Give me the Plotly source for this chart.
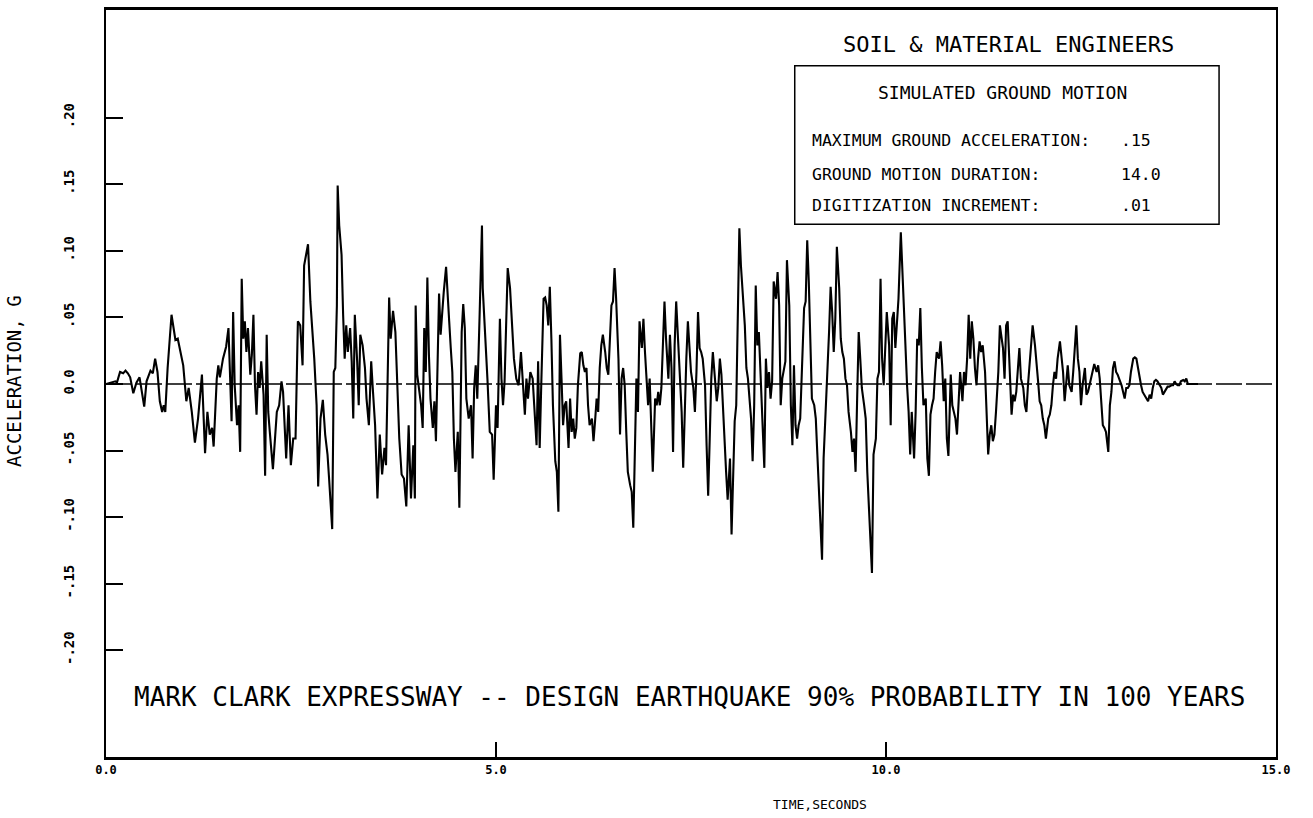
import plotly.graph_objects as go

# Simulated ground motion record: time (s) and acceleration (g)
time_s = [
    0.00, 0.05, 0.12, 0.14, 0.18, 0.22, 0.25, 0.28, 0.31, 0.35, 0.39, 0.43, 0.46, 0.49, 0.52, 0.57,
    0.60, 0.63, 0.66, 0.69, 0.72, 0.74, 0.76, 0.79, 0.84, 0.89, 0.92, 0.96, 0.99, 1.03, 1.06, 1.10,
    1.14, 1.18, 1.23, 1.27, 1.30, 1.33, 1.36, 1.38, 1.42, 1.44, 1.46, 1.50, 1.54, 1.57, 1.59, 1.61,
    1.63, 1.65, 1.68, 1.70, 1.72, 1.74, 1.76, 1.78, 1.80, 1.82, 1.85, 1.87, 1.89, 1.91, 1.93, 1.95,
    1.97, 1.99, 2.02, 2.04, 2.06, 2.08, 2.10, 2.14, 2.19, 2.22, 2.25, 2.27, 2.31, 2.34, 2.37, 2.40,
    2.43, 2.46, 2.49, 2.52, 2.54, 2.56, 2.59, 2.62, 2.65, 2.67, 2.70, 2.72, 2.75, 2.78,
    2.81, 2.84, 2.86, 2.90, 2.92, 2.94, 2.96, 2.97, 2.99, 3.02, 3.04, 3.06, 3.08, 3.10, 3.13, 3.15,
    3.17, 3.19, 3.22, 3.24, 3.26, 3.29, 3.32, 3.34, 3.37, 3.40, 3.42, 3.45, 3.48, 3.51, 3.54, 3.57,
    3.59, 3.61, 3.63, 3.65, 3.68, 3.71, 3.73, 3.76, 3.79, 3.82, 3.85, 3.88, 3.91, 3.94, 3.96, 3.97,
    3.99, 4.01, 4.04, 4.06, 4.08, 4.10, 4.12, 4.14, 4.16, 4.19, 4.21, 4.23, 4.25, 4.27, 4.29, 4.31,
    4.33, 4.36, 4.38, 4.40, 4.42, 4.44, 4.46, 4.48, 4.51, 4.53, 4.56, 4.58, 4.60, 4.62, 4.65, 4.68,
    4.70, 4.72, 4.74, 4.76, 4.79, 4.82, 4.83, 4.86, 4.89, 4.92, 4.95, 4.97, 5.00, 5.02, 5.05, 5.07,
    5.09, 5.11, 5.13, 5.15, 5.18, 5.20, 5.23, 5.26, 5.29, 5.32, 5.35, 5.37, 5.39, 5.41, 5.44, 5.47,
    5.49, 5.52, 5.54,
    5.56, 5.58, 5.61, 5.63, 5.65, 5.67, 5.69, 5.71, 5.73, 5.76, 5.78, 5.80, 5.82, 5.84, 5.86, 5.88,
    5.90, 5.93, 5.95, 5.97, 5.99, 6.01, 6.03, 6.05, 6.08, 6.10, 6.12, 6.14, 6.16, 6.18, 6.20, 6.23,
    6.25, 6.27, 6.29, 6.31, 6.33, 6.35, 6.37, 6.40, 6.42, 6.44, 6.46, 6.48, 6.50, 6.52, 6.54, 6.57,
    6.59, 6.61, 6.63, 6.65, 6.67, 6.69, 6.72, 6.74, 6.76, 6.78, 6.80, 6.82, 6.84, 6.87, 6.89, 6.91,
    6.93, 6.95, 6.97, 6.99, 7.01, 7.04, 7.06, 7.08, 7.10, 7.12, 7.14, 7.16, 7.18, 7.21, 7.23, 7.25,
    7.27, 7.29, 7.31, 7.33, 7.36, 7.38, 7.40, 7.42, 7.44, 7.46, 7.48, 7.50, 7.53, 7.55, 7.57, 7.59,
    7.61, 7.63, 7.65, 7.68, 7.70, 7.72, 7.74, 7.76, 7.78, 7.80, 7.83, 7.85, 7.87, 7.89, 7.91, 7.95,
    7.97, 8.00, 8.02, 8.04, 8.06, 8.08, 8.10, 8.12, 8.14, 8.17, 8.19, 8.21, 8.23, 8.25, 8.27, 8.29,
    8.31, 8.33, 8.35, 8.37, 8.39, 8.41, 8.44, 8.46, 8.48, 8.50, 8.52, 8.54, 8.56, 8.59, 8.61, 8.63,
    8.65, 8.67, 8.69, 8.71, 8.73, 8.76, 8.78, 8.80, 8.82, 8.84, 8.86, 8.88, 8.90, 8.93, 8.95, 8.97,
    8.99, 9.01, 9.03, 9.05, 9.08, 9.10, 9.12, 9.14, 9.16, 9.18, 9.20, 9.23, 9.25, 9.27, 9.29, 9.31,
    9.33, 9.35, 9.37, 9.40, 9.42, 9.44, 9.46, 9.48, 9.50, 9.52, 9.55, 9.57, 9.59, 9.61, 9.63, 9.65,
    9.67, 9.69, 9.72, 9.74, 9.76, 9.78, 9.80, 9.82, 9.84, 9.87, 9.89, 9.91, 9.93, 9.95, 9.97, 9.99,
    10.01, 10.04, 10.06, 10.08, 10.10, 10.12, 10.14, 10.16, 10.19, 10.21, 10.23, 10.25, 10.27, 10.29,
    10.31, 10.33, 10.36, 10.38, 10.40, 10.42, 10.44, 10.46, 10.48, 10.51, 10.53, 10.55, 10.57, 10.59,
    10.61, 10.63, 10.65, 10.68, 10.70, 10.72, 10.74, 10.76, 10.78, 10.80, 10.83, 10.85, 10.87, 10.89,
    10.91, 10.93, 10.95, 10.98, 11.00, 11.02, 11.04, 11.06,
    11.08, 11.10, 11.12, 11.14, 11.16, 11.18, 11.20, 11.22, 11.24, 11.27, 11.29, 11.31, 11.33, 11.35,
    11.37, 11.39, 11.41, 11.44, 11.46, 11.48, 11.50, 11.52, 11.54, 11.56, 11.59, 11.61, 11.63, 11.65,
    11.67, 11.69, 11.71, 11.73, 11.76, 11.78, 11.80, 11.82, 11.84, 11.86, 11.88, 11.91, 11.93, 11.95,
    11.97, 11.99, 12.01, 12.03, 12.05, 12.08, 12.10, 12.12, 12.14, 12.16, 12.18, 12.20, 12.23, 12.25,
    12.27, 12.29, 12.31, 12.33, 12.35, 12.38, 12.40, 12.42, 12.44, 12.46, 12.48, 12.50, 12.52, 12.55,
    12.57, 12.59, 12.61, 12.63, 12.65, 12.67, 12.70, 12.72, 12.74, 12.76, 12.78, 12.80, 12.82, 12.85,
    12.87, 12.89, 12.91, 12.93, 12.95, 12.97, 12.99, 13.02, 13.04, 13.06, 13.08, 13.10, 13.12, 13.14,
    13.17, 13.19, 13.21, 13.23, 13.25, 13.27, 13.29, 13.31, 13.33, 13.36, 13.38, 13.40, 13.42, 13.44,
    13.46, 13.48, 13.51, 13.53, 13.55, 13.57, 13.59, 13.61, 13.63, 13.66, 13.68, 13.70, 13.72, 13.74,
    13.76, 13.78, 13.81, 13.83, 13.85, 13.87, 13.89, 13.91, 13.93, 14.00,
]

accel_g = [
    0.000, 0.001, 0.002, 0.001, 0.009, 0.008, 0.010, 0.008, 0.005, -0.007, 0.001, 0.005, -0.006, -0.017, 0.002, 0.010,
    0.008, 0.019, 0.009, -0.013, -0.021, -0.016, -0.021, 0.012, 0.052, 0.033, 0.034, 0.023, 0.014, -0.013, -0.003, -0.021,
    -0.044, -0.026, 0.007, -0.052, -0.021, -0.038, -0.033, -0.047, 0.004, 0.014, 0.005, 0.019, 0.028, 0.042, 0.007, -0.028,
    0.054, -0.001, -0.031, -0.016, -0.051, 0.079, 0.034, 0.047, 0.024, 0.042, 0.007, 0.022, 0.052, -0.001, -0.023, 0.009,
    -0.003, 0.017, -0.008, -0.069, 0.037, -0.021, -0.036, -0.064, -0.021, -0.016, 0.002, -0.006, -0.056, -0.016, -0.061, -0.041,
    -0.041, 0.047, 0.044, 0.014, 0.089, 0.095, 0.105, 0.062, 0.039, 0.019, -0.016, -0.077, -0.026, -0.012,
    -0.038, -0.053, -0.071, -0.109, 0.009, 0.012, 0.059, 0.149, 0.119, 0.097, 0.052, 0.019, 0.044, 0.024, 0.042, 0.017,
    -0.026, 0.052, 0.017, -0.016, 0.037, 0.029, 0.012, -0.011, -0.031, 0.017, -0.003, -0.031, -0.086, -0.038, -0.068, -0.048,
    -0.061, 0.004, 0.065, 0.034, 0.055, 0.039, 0.009, -0.041, -0.068, -0.071, -0.092, -0.031, -0.086, -0.046, -0.086, 0.059,
    0.007, -0.001, -0.016, -0.033, 0.042, 0.009, 0.080, 0.022, -0.011, -0.033, -0.013, -0.043, 0.004, 0.068, 0.037, 0.057,
    0.069, 0.088, 0.062, 0.047, 0.027, 0.009, -0.041, -0.066, -0.036, -0.093, 0.039, 0.060, 0.042, -0.011, -0.026, -0.016,
    -0.056, -0.003, 0.014, -0.011, 0.052, 0.119, 0.072, 0.042, 0.004, -0.036, -0.038, -0.072, -0.016, -0.033, 0.049, 0.004,
    -0.016, 0.002, 0.054, 0.087, 0.072, 0.054, 0.019, 0.004, -0.001, 0.024, -0.003, -0.023, 0.004, -0.011, 0.009, 0.004,
    -0.016, -0.046, 0.017,
    -0.048, -0.001, 0.064, 0.065, 0.059, 0.044, 0.073, 0.034, -0.016, -0.058, -0.066, -0.096, 0.037, 0.004, -0.031, -0.016,
    -0.013, -0.048, -0.011, -0.036, -0.026, -0.041, -0.033, -0.001, 0.023, 0.024, 0.014, 0.009, 0.012, -0.016, -0.031, -0.026,
    -0.043, -0.028, -0.011, -0.021, 0.012, 0.029, 0.037, 0.024, 0.012, 0.007, 0.034, 0.059, 0.062, 0.087, 0.064, 0.019,
    -0.038, 0.004, 0.012, -0.001, -0.036, -0.066, -0.076, -0.081, -0.108, -0.038, 0.004, -0.021, 0.047, 0.027, 0.049, 0.024,
    0.004, -0.016, 0.004, -0.031, -0.066, -0.011, -0.016, -0.006, -0.016, -0.003, 0.027, 0.062, 0.034, 0.004, 0.037, 0.012,
    -0.051, 0.029, 0.062, 0.039, 0.009, -0.021, -0.063, -0.011, 0.019, 0.047, 0.029, 0.009, -0.003, -0.021, 0.009, 0.054,
    0.027, 0.024, 0.019, -0.001, -0.046, -0.084, -0.041, 0.004, 0.024, 0.009, -0.013, -0.003, 0.019, 0.007, -0.021, -0.066,
    -0.087, -0.056, -0.113, -0.066, -0.028, -0.016, 0.054, 0.117, 0.089, 0.059, 0.044, 0.012, 0.004, -0.011, -0.026, -0.058,
    -0.016, 0.074, 0.029, 0.039, 0.009, -0.011, -0.063, 0.019, -0.003, 0.009, -0.011, 0.002, 0.077, 0.064, 0.084, 0.059,
    -0.016, 0.004, 0.012, 0.017, 0.093, 0.059, -0.016, -0.046, 0.014, -0.031, -0.041, -0.031, -0.026, 0.019, 0.057, 0.062,
    0.108, 0.077, 0.039, -0.011, -0.016, -0.026, -0.053, -0.076, -0.103, -0.132, -0.056, -0.016, 0.004, 0.039, 0.073, 0.054,
    0.024, 0.049, 0.103, 0.072, 0.034, 0.024, 0.019, 0.004, -0.001, -0.021, -0.036, -0.051, -0.041, -0.066, -0.011, 0.039,
    0.019, -0.003, -0.016, -0.026, -0.066, -0.091, -0.116, -0.142, -0.053, -0.041, 0.004, 0.009, 0.079, 0.019, -0.001, 0.024,
    0.054, 0.029, -0.031, 0.049, 0.054, 0.027, 0.042, 0.064, 0.114, 0.082, 0.059, 0.019, -0.001, -0.021,
    -0.053, -0.021, -0.056, -0.021, 0.034, 0.029, 0.057, 0.012, -0.016, -0.011, -0.056, -0.069, -0.023, -0.016,
    -0.011, 0.009, 0.024, 0.019, 0.032, 0.014, -0.013, 0.004, -0.041, -0.054, 0.007, -0.016, -0.021, -0.026,
    -0.038, -0.016, 0.009, -0.013, 0.009, -0.001, 0.019, 0.052,
    0.019, 0.047, 0.034, 0.012, -0.001, 0.019, 0.032, 0.024, 0.029, 0.009, -0.031, -0.053, -0.038, -0.031,
    -0.043, -0.038, -0.021, 0.009, 0.044, 0.034, 0.027, 0.004, 0.044, 0.047, -0.001, -0.023, -0.008, -0.013,
    -0.006, 0.009, 0.027, 0.004, -0.003, -0.016, -0.021, -0.001, 0.014, 0.029, 0.044, 0.029, 0.012, 0.002,
    -0.013, -0.016, -0.026, -0.031, -0.041, -0.026, -0.023, -0.016, -0.001, 0.009, 0.004, 0.019, 0.032, 0.019,
    0.009, -0.013, 0.004, 0.014, -0.001, -0.006, 0.009, 0.027, 0.044, 0.019, 0.009, -0.016, -0.001, 0.012,
    -0.008, -0.006, -0.001, 0.004, 0.009, 0.015, 0.009, 0.014, 0.004, -0.013, -0.031, -0.033, -0.036, -0.051,
    -0.016, -0.006, 0.012, 0.017, 0.009, 0.007, 0.004, -0.001, -0.006, -0.011, -0.003, -0.003, -0.001, 0.009,
    0.019, 0.020, 0.019, 0.012, 0.004, -0.001, -0.006, -0.008, -0.011, -0.013, -0.008, -0.011, -0.003, 0.002,
    0.003, 0.002, -0.001, -0.003, -0.008, -0.006, -0.003, -0.002, -0.002, -0.001, -0.001, 0.002, 0.000, -0.001,
    -0.001, 0.002, 0.003, 0.002, 0.004, 0.000, 0.000, 0.000, 0.000, 0.000,
]

x_tick_vals = [0, 5, 10, 15]
x_tick_text = ["0.0", "5.0", "10.0", "15.0"]
y_tick_vals = [-0.20, -0.15, -0.10, -0.05, 0.0, 0.05, 0.10, 0.15, 0.20]
y_tick_text = ["-.20", "-.15", "-.10", "-.05", "0.0", ".05", ".10", ".15", ".20"]

info_labels = ["MAXIMUM GROUND ACCELERATION:", "GROUND MOTION DURATION:", "DIGITIZATION INCREMENT:"]
info_values = [".15", "14.0", ".01"]

MONO = "DejaVu Sans Mono"

fig = go.Figure()

fig.add_trace(go.Scatter(
    x=time_s, y=accel_g, mode="lines",
    line=dict(color="black", width=2.1),
    showlegend=False, hoverinfo="skip",
))

# zero baseline across the full time axis
fig.add_shape(type="line", xref="x", yref="y", x0=0, x1=15, y0=0, y1=0,
              line=dict(color="black", width=1.5, dash="26px,4px"), layer="below")

# information box
fig.add_shape(type="rect", xref="x", yref="y", x0=8.83, x1=14.27, y0=0.120, y1=0.239,
              line=dict(color="black", width=1.5), fillcolor="white", layer="above")

annotations = [
    dict(text="SOIL & MATERIAL ENGINEERS", x=11.57, y=0.255, xref="x", yref="y",
         showarrow=False, xanchor="center", yanchor="middle",
         font=dict(family=MONO, size=22, color="black")),
    dict(text="SIMULATED GROUND MOTION", x=11.49, y=0.219, xref="x", yref="y",
         showarrow=False, xanchor="center", yanchor="middle",
         font=dict(family=MONO, size=18, color="black")),
]
row_y = [0.183, 0.157, 0.134]
for lab, val, yy in zip(info_labels, info_values, row_y):
    annotations.append(dict(text=lab, x=9.03, y=yy, xref="x", yref="y", showarrow=False,
                            xanchor="left", yanchor="middle",
                            font=dict(family=MONO, size=16.5, color="black")))
    annotations.append(dict(text=val, x=12.99, y=yy, xref="x", yref="y", showarrow=False,
                            xanchor="left", yanchor="middle",
                            font=dict(family=MONO, size=16.5, color="black")))

annotations += [
    dict(text="MARK CLARK EXPRESSWAY -- DESIGN EARTHQUAKE 90% PROBABILITY IN 100 YEARS",
         x=0.499, y=0.08, xref="paper", yref="paper", showarrow=False,
         xanchor="center", yanchor="middle",
         font=dict(family=MONO, size=26, color="black")),
    dict(text="TIME,SECONDS", x=0.61, y=-0.064, xref="paper", yref="paper", showarrow=False,
         xanchor="center", yanchor="middle",
         font=dict(family=MONO, size=13, color="black")),
    dict(text="ACCELERATION, G", x=-0.078, y=0.503, xref="paper", yref="paper", showarrow=False,
         xanchor="center", yanchor="middle", textangle=-90,
         font=dict(family=MONO, size=19, color="black")),
]

fig.update_layout(
    width=1313, height=818, autosize=False,
    margin=dict(l=106, r=37, t=7, b=61),
    paper_bgcolor="white", plot_bgcolor="white",
    annotations=annotations,
    showlegend=False,
)

fig.update_xaxes(
    range=[0, 15], tickvals=x_tick_vals, ticktext=x_tick_text,
    ticks="inside", ticklen=15, tickwidth=1.5, tickcolor="black",
    showline=True, linecolor="black", linewidth=2.5, mirror=True,
    showgrid=False, zeroline=False,
    tickfont=dict(family=MONO, size=12, color="black", weight="bold"),
)
fig.update_yaxes(
    range=[-0.2802, 0.2809], tickvals=y_tick_vals, ticktext=y_tick_text,
    ticks="inside", ticklen=17, tickwidth=1.5, tickcolor="black",
    showline=True, linecolor="black", linewidth=2, mirror=True,
    showgrid=False, zeroline=False, tickangle=-90, ticklabelstandoff=24,
    tickfont=dict(family=MONO, size=14, color="black", weight="bold"),
)

fig.write_html("out.html")
